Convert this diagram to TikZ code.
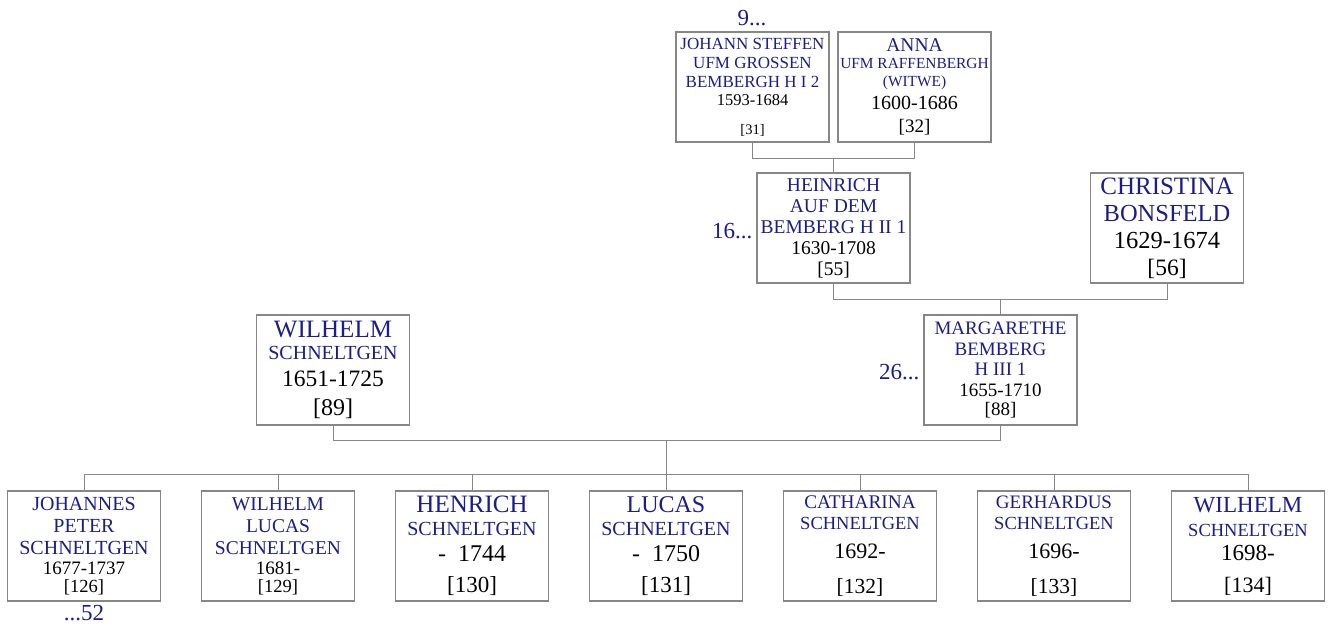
\documentclass[tikz,border=0pt]{standalone}
\usepackage{fontspec}
\setmainfont{Liberation Serif}
\usetikzlibrary{calc}

\definecolor{namecol}{RGB}{28,28,140}
\definecolor{boxgray}{RGB}{135,135,135}

% name line (blue) and plain line, size in pt
\newcommand\nm[2]{{\fontsize{#1}{#1}\selectfont\color{namecol}#2}}
\newcommand\yr[2]{{\fontsize{#1}{#1}\selectfont #2}}
\newcommand\skipat[1]{\fontsize{10}{#1}\selectfont}

\begin{document}
\begin{tikzpicture}[x=1pt,y=-1pt,
  person/.style={draw=boxgray,line width=1.1pt,minimum width=153pt,minimum height=110pt,
    inner sep=0pt,align=center},
  conn/.style={draw=boxgray,line width=1pt},
  more/.style={text=namecol,font=\fontsize{23}{23}\selectfont,inner sep=0pt}]
  \useasboundingbox (0,0) rectangle (1329,626);

  % Top: parents of Heinrich
  \node[person,font=\skipat{19}] (johann) at (752.5,87)
    {\nm{17}{JOHANN STEFFEN}\\ \nm{17}{UFM GROSSEN}\\ \nm{17}{BEMBERGH H I 2}\\[-1pt]
     \yr{16.5}{1593-1684}\\[10pt] \yr{14.5}{[31]}};
  \node[person,font=\skipat{18}] (anna) at (914.5,87)
    {\nm{19.5}{ANNA}\\[-1.5pt] \nm{15.4}{UFM RAFFENBERGH}\\ \nm{15.4}{(WITWE)}\\[5.5pt]
     \yr{20}{1600-1686}\\[5pt] \yr{19}{[32]}};
  \node[more,anchor=south] (n9) at (752,26) {9...};

  % Middle: Heinrich and Christina
  \node[person,font=\skipat{21}] (heinrich) at (833.5,228)
    {\nm{19.5}{HEINRICH}\\ \nm{19.5}{AUF DEM}\\ \nm{19.5}{BEMBERG H II 1}\\
     \yr{19.5}{1630-1708}\\ \yr{19.5}{[55]}};
  \node[person,font=\skipat{27}] (christina) at (1167,228)
    {\nm{25}{CHRISTINA}\\ \nm{24.5}{BONSFELD}\\ \yr{24.5}{1629-1674}\\ \yr{23.5}{[56]}};
  \node[more,anchor=east] (n16) at ($(heinrich.west)+(0,3)$) {16...\,};

  % Parents
  \node[person,font=\skipat{22}] (wilhelm) at (333,370)
    {\nm{25}{WILHELM}\\ \nm{20}{SCHNELTGEN}\\[5pt] \yr{23.5}{1651-1725}\\[7pt] \yr{24}{[89]}};
  \node[person,font=\skipat{20.5}] (margarethe) at (1000.5,370)
    {\nm{19}{MARGARETHE}\\ \nm{19}{BEMBERG}\\ \nm{19}{H III 1}\\
     \yr{19}{1655-1710}\\[-1.5pt] \yr{19}{[88]}};
  \node[more,anchor=east] (n26) at ($(margarethe.west)+(0,2)$) {26...\,};

  % Children
  \node[person,font=\skipat{21}] (johannes) at (84,546)
    {\nm{20}{JOHANNES}\\[1pt] \nm{20}{PETER}\\[1pt] \nm{20}{SCHNELTGEN}\\[-1pt]
     \yr{19}{1677-1737}\\[-3pt] \yr{18.5}{[126]}};
  \node[person,font=\skipat{21}] (wilhelmlucas) at (278,546)
    {\nm{19.5}{WILHELM}\\[1pt] \nm{19.5}{LUCAS}\\[1pt] \nm{19.5}{SCHNELTGEN}\\[-1pt]
     \yr{19}{1681-}\\[-3pt] \yr{18.5}{[129]}};
  \node[person,font=\skipat{23}] (henrich) at (472,546)
    {\nm{25}{HENRICH}\\ \nm{20}{SCHNELTGEN}\\[3pt] \yr{24}{-\ \ 1744}\\[8pt] \yr{23}{[130]}};
  \node[person,font=\skipat{23}] (lucas) at (666,546)
    {\nm{24}{LUCAS}\\ \nm{20}{SCHNELTGEN}\\[3pt] \yr{24}{-\ \ 1750}\\[8pt] \yr{23}{[131]}};
  \node[person,font=\skipat{21}] (catharina) at (860,546)
    {\nm{19.3}{CATHARINA}\\ \nm{18.5}{SCHNELTGEN}\\[8pt] \yr{22}{1692-}\\[14pt] \yr{21.5}{[132]}};
  \node[person,font=\skipat{21}] (gerhardus) at (1054,546)
    {\nm{19}{GERHARDUS}\\ \nm{18.5}{SCHNELTGEN}\\[8pt] \yr{22}{1696-}\\[14pt] \yr{21.5}{[133]}};
  \node[person,font=\skipat{24}] (wilhelmjr) at (1248,546)
    {\nm{23}{WILHELM}\\ \nm{18.5}{SCHNELTGEN}\\ \yr{23}{1698-}\\[8pt] \yr{22}{[134]}};
  \node[more,anchor=north] (n52) at ($(johannes.south)+(0,4)$) {...52};

  % Connectors
  \draw[conn] (johann.south) -- ++(0,16) -| (anna.south);
  \coordinate (m1) at ($(johann.south)!0.5!(anna.south)+(0,16)$);
  \draw[conn] (m1) -- (m1 |- heinrich.north);

  \draw[conn] (heinrich.south) -- ++(0,16) -| (christina.south);
  \coordinate (m2) at ($(heinrich.south)!0.5!(christina.south)+(0,16)$);
  \draw[conn] (m2) -- (m2 |- margarethe.north);

  \draw[conn] (wilhelm.south) -- ++(0,15) -| (margarethe.south);
  \coordinate (m3) at ($(wilhelm.south)!0.5!(margarethe.south)+(0,15)$);
  \coordinate (bar) at ($(lucas.north)+(0,-16)$);
  \draw[conn] (m3) -- (m3 |- bar);
  \draw[conn] (johannes.north) -- ++(0,-16) -| (wilhelmjr.north);
  \foreach \kid in {wilhelmlucas,henrich,lucas,catharina,gerhardus}
    \draw[conn] (\kid.north) -- ++(0,-16);
\end{tikzpicture}
\end{document}
